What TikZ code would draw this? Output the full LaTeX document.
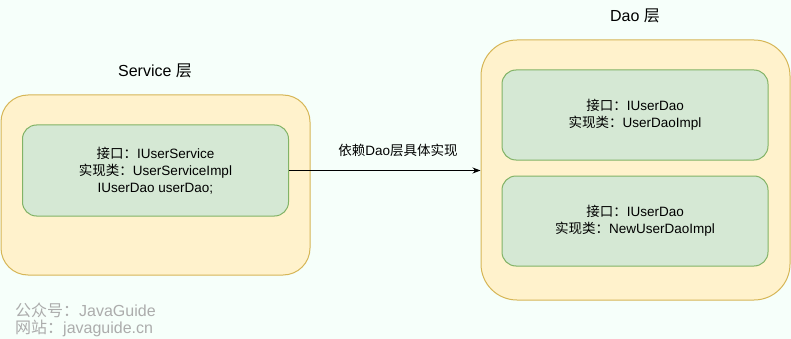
\documentclass[tikz,border=0pt]{standalone}
\usepackage{fontspec}
\setmainfont{Liberation Sans}
\newfontfamily\cjk{Noto Sans CJK SC}
\usetikzlibrary{arrows.meta}
\definecolor{bgmint}{RGB}{246,255,250}
\definecolor{layerfill}{RGB}{255,242,204}
\definecolor{layerdraw}{RGB}{214,182,86}
\definecolor{implfill}{RGB}{213,232,212}
\definecolor{impldraw}{RGB}{130,179,102}
\definecolor{wmark}{RGB}{172,172,172}
\tikzset{
  layer/.style={rectangle, draw=layerdraw, fill=layerfill, line width=1pt,
    inner sep=0pt, minimum width=309pt},
  impl/.style={rectangle, rounded corners=14pt, draw=impldraw, fill=implfill,
    line width=1pt, align=center, minimum width=266pt, minimum height=91pt,
    font=\fontsize{13.5}{17}\selectfont},
  title/.style={font=\fontsize{16}{19}\selectfont},
  flowlabel/.style={font=\fontsize{13.5}{17}\selectfont},
  flow/.style={-{Stealth[length=8pt, width=6pt]}, line width=1pt, draw=black},
  wmtext/.style={font=\fontsize{16}{19}\selectfont, text=wmark, anchor=west, inner sep=0pt},
}

\begin{document}
\begin{tikzpicture}[x=1pt, y=-1pt]
  \fill[bgmint] (0,0) rectangle (791,339);
  \useasboundingbox (0,0) rectangle (791,339);
  \node[layer, rounded corners=27pt, minimum height=180pt] (svclayer) at (155.5,185) {};
  \node[layer, rounded corners=36pt, minimum height=260pt] (daolayer) at (635.5,170) {};
  \node[title] (svctitle) at (155,71) {Service {\cjk 层}};
  \node[title] (daotitle) at (635,16) {Dao {\cjk 层}};
  \node[impl] (svcimpl) at (155.5,170.5)
    {{\cjk 接口：}IUserService\\{\cjk 实现类：}UserServiceImpl\\IUserDao userDao;};
  \node[impl, minimum height=90pt] (daoimpl) at (635,115)
    {{\cjk 接口：}IUserDao\\{\cjk 实现类：}UserDaoImpl};
  \node[impl, minimum height=90pt] (newdaoimpl) at (635,221)
    {{\cjk 接口：}IUserDao\\{\cjk 实现类：}NewUserDaoImpl};
  \draw[flow] (svcimpl.east) -- (svcimpl.east -| daolayer.west);
  \node[flowlabel] (deplabel) at (398,150) {{\cjk 依赖}Dao{\cjk 层具体实现}};
  \node[wmtext] (wmwechat) at (15,310) {{\cjk 公众号：}JavaGuide};
  \node[wmtext] (wmsite) at (15,328) {{\cjk 网站：}javaguide.cn};
\end{tikzpicture}
\end{document}
